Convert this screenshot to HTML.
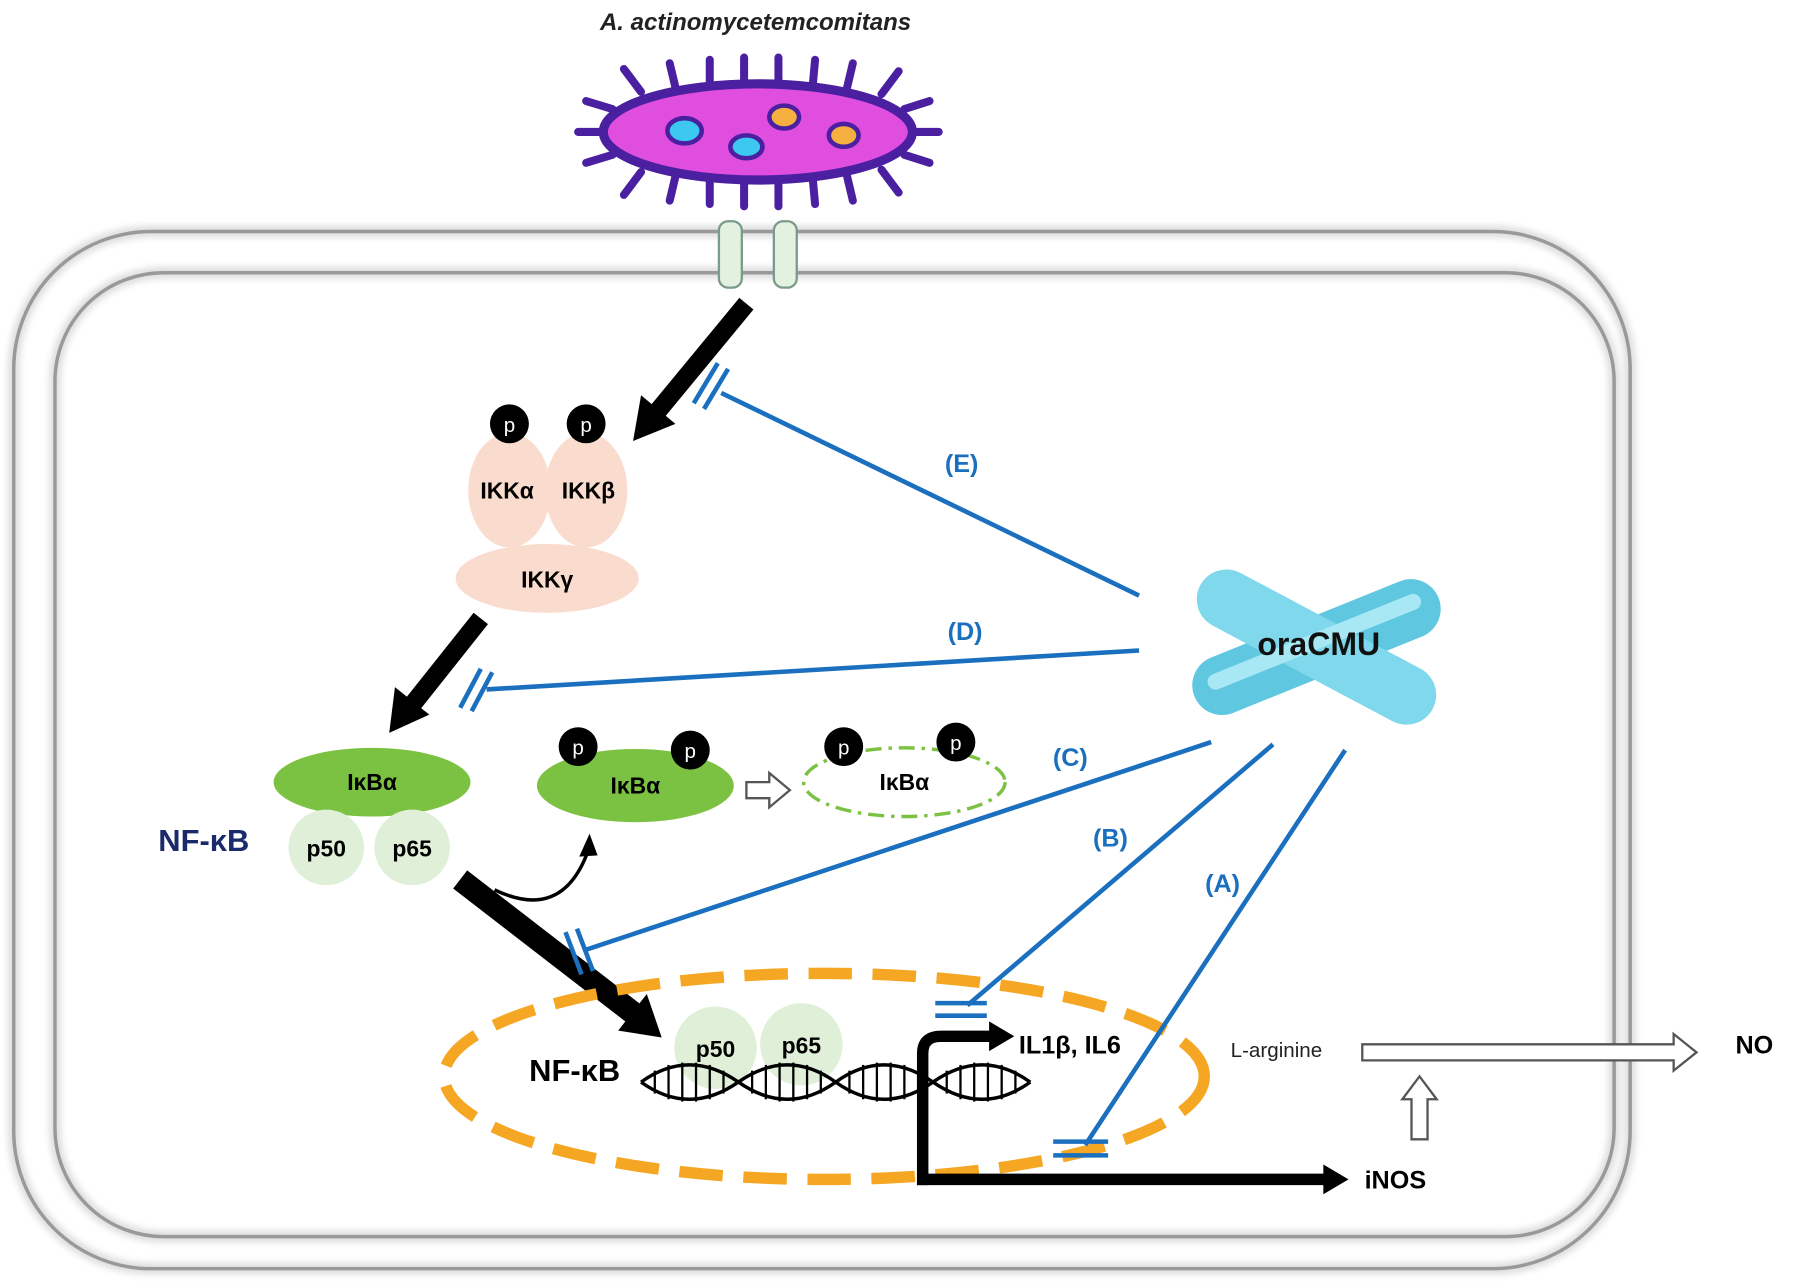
<!DOCTYPE html>
<html><head><meta charset="utf-8"><style>html,body{margin:0;padding:0;background:#fff}svg{display:block}</style></head>
<body>
<svg width="1795" height="1285" viewBox="0 0 1568 1122" xmlns="http://www.w3.org/2000/svg" font-family="Liberation Sans, DejaVu Sans, sans-serif">
<defs>
<filter id="bl" x="-5%" y="-5%" width="110%" height="110%"><feGaussianBlur stdDeviation="3"/></filter>
</defs>
<!-- cell -->
<rect x="12" y="202" width="1412" height="906" rx="120" fill="none" stroke="#ddd" stroke-width="10" filter="url(#bl)"/>
<rect x="48" y="238" width="1362" height="842" rx="95" fill="none" stroke="#ddd" stroke-width="10" filter="url(#bl)"/>
<rect x="12" y="202" width="1412" height="906" rx="120" fill="none" stroke="#999" stroke-width="3"/>
<rect x="48" y="238" width="1362" height="842" rx="95" fill="none" stroke="#999" stroke-width="3"/>
<!-- bacterium -->
<text x="660" y="26" font-size="21" font-weight="bold" font-style="italic" text-anchor="middle" fill="#222">A. actinomycetemcomitans</text>
<g stroke="#4a1fa0" stroke-width="7" stroke-linecap="round">
<line x1="560" y1="80" x2="545" y2="60"/><line x1="590" y1="76" x2="585" y2="55"/><line x1="620" y1="74" x2="620" y2="52"/><line x1="650" y1="73" x2="650" y2="50"/><line x1="680" y1="73" x2="680" y2="50"/><line x1="710" y1="74" x2="712" y2="52"/><line x1="740" y1="76" x2="745" y2="55"/><line x1="770" y1="82" x2="785" y2="62"/>
<line x1="535" y1="95" x2="512" y2="88"/><line x1="528" y1="115" x2="505" y2="115"/><line x1="535" y1="135" x2="512" y2="142"/>
<line x1="790" y1="95" x2="812" y2="88"/><line x1="797" y1="115" x2="820" y2="115"/><line x1="790" y1="135" x2="812" y2="142"/>
<line x1="560" y1="150" x2="545" y2="170"/><line x1="590" y1="154" x2="585" y2="175"/><line x1="620" y1="156" x2="620" y2="178"/><line x1="650" y1="157" x2="650" y2="180"/><line x1="680" y1="157" x2="680" y2="180"/><line x1="710" y1="156" x2="712" y2="178"/><line x1="740" y1="154" x2="745" y2="175"/><line x1="770" y1="148" x2="785" y2="168"/>
</g>
<ellipse cx="662" cy="115" rx="135" ry="42" fill="#e04ee0" stroke="#4a1fa0" stroke-width="8"/>
<ellipse cx="598" cy="114" rx="15" ry="11" fill="#3cc8f0" stroke="#4a1fa0" stroke-width="4"/>
<ellipse cx="652" cy="128" rx="14" ry="10" fill="#3cc8f0" stroke="#4a1fa0" stroke-width="4"/>
<ellipse cx="685" cy="102" rx="13" ry="10" fill="#f5b040" stroke="#4a1fa0" stroke-width="4"/>
<ellipse cx="737" cy="118" rx="13" ry="10" fill="#f5b040" stroke="#4a1fa0" stroke-width="4"/>
<!-- channels -->
<rect x="628" y="193" width="20" height="58" rx="8" fill="#e3f2e0" stroke="#7a9a8a" stroke-width="2"/>
<rect x="676" y="193" width="20" height="58" rx="8" fill="#e3f2e0" stroke="#7a9a8a" stroke-width="2"/>
<!-- arrows black -->
<line x1="652" y1="265" x2="572" y2="362" stroke="#000" stroke-width="16"/>
<polygon points="553,385 560,345 590,370" fill="#000"/>
<line x1="420" y1="540" x2="358" y2="618" stroke="#000" stroke-width="16"/>
<polygon points="340,640 345,600 375,624" fill="#000"/>
<!-- IKK -->
<ellipse cx="445" cy="428" rx="36" ry="50" fill="#f9dccd"/>
<ellipse cx="512" cy="428" rx="36" ry="50" fill="#f9dccd"/>
<ellipse cx="478" cy="505" rx="80" ry="30" fill="#f9dccd"/>
<text x="443" y="435" font-size="20" font-weight="bold" text-anchor="middle">IKKα</text>
<text x="514" y="435" font-size="20" font-weight="bold" text-anchor="middle">IKKβ</text>
<text x="478" y="513" font-size="20" font-weight="bold" text-anchor="middle">IKKγ</text>
<circle cx="445" cy="370" r="17" fill="#000"/><text x="445" y="377" font-size="18" fill="#fff" text-anchor="middle">p</text>
<circle cx="512" cy="370" r="17" fill="#000"/><text x="512" y="377" font-size="18" fill="#fff" text-anchor="middle">p</text>
<!-- IkBa complex -->
<ellipse cx="325" cy="683" rx="86" ry="30" fill="#7cc242"/>
<text x="325" y="690" font-size="20" font-weight="bold" text-anchor="middle">IκBα</text>
<circle cx="285" cy="740" r="33" fill="#e0efd8"/><circle cx="360" cy="740" r="33" fill="#e0efd8"/>
<text x="285" y="748" font-size="20" font-weight="bold" text-anchor="middle">p50</text>
<text x="360" y="748" font-size="20" font-weight="bold" text-anchor="middle">p65</text>
<text x="178" y="743" font-size="27" font-weight="bold" fill="#1a2a6c" text-anchor="middle">NF-κB</text>
<ellipse cx="555" cy="686" rx="86" ry="32" fill="#7cc242"/>
<text x="555" y="693" font-size="20" font-weight="bold" text-anchor="middle">IκBα</text>
<circle cx="505" cy="652" r="17" fill="#000"/><text x="505" y="659" font-size="18" fill="#fff" text-anchor="middle">p</text>
<circle cx="603" cy="655" r="17" fill="#000"/><text x="603" y="662" font-size="18" fill="#fff" text-anchor="middle">p</text>
<polygon points="652,683 672,683 672,675 690,690 672,705 672,697 652,697" fill="#fff" stroke="#555" stroke-width="2"/>
<ellipse cx="790" cy="683" rx="88" ry="30" fill="none" stroke="#7cc242" stroke-width="3" stroke-dasharray="14,6,3,6"/>
<text x="790" y="690" font-size="20" font-weight="bold" text-anchor="middle">IκBα</text>
<circle cx="737" cy="652" r="17" fill="#000"/><text x="737" y="659" font-size="18" fill="#fff" text-anchor="middle">p</text>
<circle cx="835" cy="648" r="17" fill="#000"/><text x="835" y="655" font-size="18" fill="#fff" text-anchor="middle">p</text>
<path d="M432,777 Q490,805 513,745" fill="none" stroke="#000" stroke-width="3"/>
<polygon points="515,728 506,748 522,747" fill="#000"/>
<line x1="402" y1="768" x2="560" y2="890" stroke="#000" stroke-width="20"/>
<polygon points="578,906 540,900 565,868" fill="#000"/>
<!-- nucleus -->
<ellipse cx="720" cy="940" rx="332" ry="90" fill="none" stroke="#f5a623" stroke-width="10" stroke-dasharray="38,18"/>
<text x="502" y="944" font-size="27" font-weight="bold" text-anchor="middle">NF-κB</text>
<circle cx="625" cy="915" r="36" fill="#e0efd8"/><circle cx="700" cy="912" r="36" fill="#e0efd8"/>
<text x="625" y="923" font-size="20" font-weight="bold" text-anchor="middle">p50</text>
<text x="700" y="920" font-size="20" font-weight="bold" text-anchor="middle">p65</text>
<!-- DNA -->
<path d="M560,945 Q602,915 645,945 T730,945 T815,945 T900,945" fill="none" stroke="#000" stroke-width="3"/>
<path d="M560,945 Q602,975 645,945 T730,945 T815,945 T900,945" fill="none" stroke="#000" stroke-width="3"/>
<g stroke="#000" stroke-width="2">
<line x1="572" y1="935" x2="572" y2="955"/><line x1="584" y1="930" x2="584" y2="960"/><line x1="596" y1="928" x2="596" y2="962"/><line x1="608" y1="928" x2="608" y2="962"/><line x1="620" y1="930" x2="620" y2="960"/><line x1="632" y1="935" x2="632" y2="955"/>
<line x1="657" y1="935" x2="657" y2="955"/><line x1="669" y1="930" x2="669" y2="960"/><line x1="681" y1="928" x2="681" y2="962"/><line x1="693" y1="928" x2="693" y2="962"/><line x1="705" y1="930" x2="705" y2="960"/><line x1="717" y1="935" x2="717" y2="955"/>
<line x1="742" y1="935" x2="742" y2="955"/><line x1="754" y1="930" x2="754" y2="960"/><line x1="766" y1="928" x2="766" y2="962"/><line x1="778" y1="928" x2="778" y2="962"/><line x1="790" y1="930" x2="790" y2="960"/><line x1="802" y1="935" x2="802" y2="955"/>
<line x1="827" y1="935" x2="827" y2="955"/><line x1="839" y1="930" x2="839" y2="960"/><line x1="851" y1="928" x2="851" y2="962"/><line x1="863" y1="928" x2="863" y2="962"/><line x1="875" y1="930" x2="875" y2="960"/><line x1="887" y1="935" x2="887" y2="955"/>
</g>
<!-- output arrows -->
<path d="M806,1035 L806,920 Q806,905 822,905 L866,905" fill="none" stroke="#000" stroke-width="10"/>
<polygon points="886,905 864,892 864,918" fill="#000"/>
<line x1="801" y1="1030" x2="1158" y2="1030" stroke="#000" stroke-width="10"/>
<polygon points="1178,1030 1156,1017 1156,1043" fill="#000"/>
<text x="890" y="920" font-size="22" font-weight="bold">IL1β, IL6</text>
<text x="1192" y="1038" font-size="22" font-weight="bold">iNOS</text>
<text x="1075" y="923" font-size="18" fill="#222">L-arginine</text>
<polygon points="1190,912 1462,912 1462,903 1482,919 1462,935 1462,926 1190,926" fill="#fff" stroke="#555" stroke-width="2"/>
<text x="1516" y="920" font-size="22" font-weight="bold">NO</text>
<polygon points="1233,995 1233,960 1225,960 1240,940 1255,960 1247,960 1247,995" fill="#fff" stroke="#555" stroke-width="2"/>
<!-- oraCMU -->
<g transform="translate(1150,565)">
<rect x="-115" y="-26" width="230" height="52" rx="26" fill="#5fc8e0" transform="rotate(-22)"/>
<rect x="-115" y="-26" width="230" height="52" rx="26" fill="#7fd8ec" transform="rotate(28)"/>
<rect x="-100" y="-12" width="200" height="14" rx="7" fill="#a8e8f4" transform="rotate(-22)"/>
</g>
<text x="1152" y="572" font-size="28" font-weight="bold" text-anchor="middle" fill="#111">oraCMU</text>
<!-- blue inhibition -->
<g stroke="#1a6fbf" stroke-width="4" fill="none">
<line x1="995" y1="520" x2="630" y2="343"/>
<line x1="636" y1="322" x2="615" y2="357"/><line x1="627" y1="317" x2="606" y2="352"/>
<line x1="995" y1="568" x2="425" y2="602"/>
<line x1="420" y1="584" x2="402" y2="618"/><line x1="430" y1="587" x2="412" y2="621"/>
<line x1="1058" y1="648" x2="510" y2="830"/>
<line x1="504" y1="811" x2="518" y2="848"/><line x1="494" y1="814" x2="508" y2="851"/>
<line x1="1112" y1="650" x2="845" y2="878"/>
<line x1="817" y1="876" x2="862" y2="876"/><line x1="817" y1="887" x2="862" y2="887"/>
<line x1="1175" y1="655" x2="948" y2="1000"/>
<line x1="920" y1="997" x2="968" y2="997"/><line x1="920" y1="1009" x2="968" y2="1009"/>
</g>
<g fill="#1a6fbf" font-size="22" font-weight="bold" text-anchor="middle">
<text x="840" y="412">(E)</text><text x="843" y="559">(D)</text><text x="935" y="669">(C)</text><text x="970" y="739">(B)</text><text x="1068" y="779">(A)</text>
</g>
</svg>
</body></html>
